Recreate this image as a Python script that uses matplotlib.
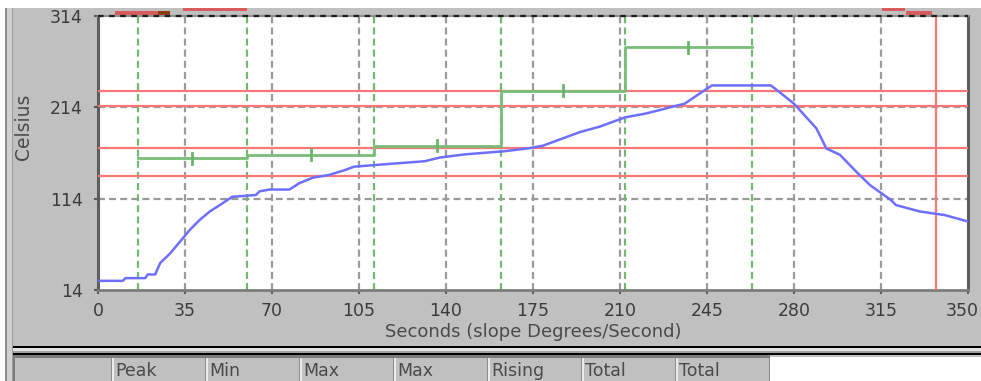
import matplotlib.pyplot as plt
import matplotlib.transforms as mtransforms
from matplotlib.patches import Rectangle

plt.rcParams['lines.scale_dashes'] = False

# profile data
time_s = [0, 10, 11, 19, 20, 23, 25, 29, 33, 37, 41, 45, 49, 54, 63.5, 65, 69, 77, 81,
          86.5, 93, 99, 103, 117, 131.5, 137.5, 147.6, 163.7, 173.8, 179, 186, 194,
          202, 212, 220, 226, 230, 236, 242, 247, 270.7, 274, 280, 284, 289, 293,
          298.5, 304.5, 310.5, 319, 321, 330.6, 340.7, 350]
temp_c = [24, 24, 27, 27, 31, 31, 43.5, 54, 67, 80, 91, 100, 107, 116, 118, 122, 124, 124, 131,
          137, 140, 145, 149, 152, 155, 159, 162.5, 166, 169.4, 172, 179, 187,
          193, 203, 207, 211, 214, 218, 229, 238, 238, 231, 218, 206, 191, 169,
          162, 145, 129, 112.5, 107, 100, 96, 89]

zone_edges = [16, 60, 111, 162, 212, 263]
zone_setpoints = [158.5, 162, 172, 232, 280]
limit_lines = [232, 216, 170, 139]
limit_time = 337

x_ticks = [0, 35, 70, 105, 140, 175, 210, 245, 280, 315, 350]
y_ticks = [14, 114, 214, 314]
table_headers = ['Peak', 'Min', 'Max', 'Max', 'Rising', 'Total', 'Total']

W, H = 981, 381


def box(fig, x0, y0, x1, y1, color):
    fig.add_artist(Rectangle((x0 / W, 1 - y1 / H), (x1 - x0) / W, (y1 - y0) / H,
                             transform=fig.transFigure, facecolor=color,
                             edgecolor='none', zorder=0))


fig = plt.figure(figsize=(9.81, 3.81), dpi=100, facecolor='white')

# window frame
box(fig, 5, 8, W, H, '#c0c0c0')
box(fig, 5, 8, 7, H, '#8c8c8c')
box(fig, 7, 8, 12, H, '#d0d0d0')
box(fig, 12, 8, 13, H, '#9a9a9a')
box(fig, 13, 346, W, 348, '#000000')
box(fig, 13, 348, W, 351, '#e4e4e4')
box(fig, 13, 351, W, 353, '#a0a0a0')
box(fig, 13, 353, W, 355, '#000000')
box(fig, 13, 355, 770, 358, '#7c7c7c')
box(fig, 13, 355, 15, H, '#7c7c7c')
box(fig, 770, 357, W, H, '#ffffff')
box(fig, 115, 11, 158, 15, '#d85c5c')
box(fig, 158, 11, 170, 15, '#8a3c10')
box(fig, 183, 8, 247, 11, '#d85c5c')
box(fig, 882, 8, 905, 11, '#d85c5c')
box(fig, 906, 11, 932, 15, '#d85c5c')

cell_w = (770 - 112) / len(table_headers)
for i, name in enumerate(table_headers):
    cx = 112 + i * cell_w
    box(fig, cx - 1, 358, cx, H, '#8c8c8c')
    box(fig, cx, 358, cx + 1.5, H, '#ececec')
    fig.text((cx + 3) / W, 1 - 362 / H, name, fontsize=12.5, color='#4a4a4a',
             va='top', ha='left')
box(fig, 769, 358, 770, H, '#8c8c8c')

ax = fig.add_axes([98 / W, 1 - 290 / H, 870 / W, 274 / H])
ax.set_facecolor('white')

dash = (5, 3)
for t in x_ticks[1:-1]:
    ax.axvline(t, color='#9a9a9a', lw=1.6, dashes=dash, zorder=1)
for v in y_ticks[1:3]:
    ax.axhline(v, color='#9a9a9a', lw=1.6, dashes=dash, zorder=1)
for t in zone_edges:
    ax.axvline(t, color='#72b872', lw=1.6, dashes=dash, zorder=2)

for v in limit_lines:
    ax.axhline(v, color='#f87878', lw=1.6, zorder=3)
ax.axvline(limit_time, color='#f87878', lw=1.6, zorder=3)

# zone setpoint steps with midpoint markers
step_x = []
step_y = []
for i, sp in enumerate(zone_setpoints):
    step_x += [zone_edges[i], zone_edges[i + 1]]
    step_y += [sp, sp]
ax.plot(step_x, step_y, color='#78be78', lw=2, zorder=4)
for i, sp in enumerate(zone_setpoints):
    mid = (zone_edges[i] + zone_edges[i + 1]) / 2
    ax.plot([mid, mid], [sp - 6, sp + 6], color='#6ab46a', lw=2, zorder=4)

ax.plot(time_s, temp_c, color='#6e6eff', lw=1.8, zorder=5)

ax.axhline(314, color='#1e1e1e', lw=1.6, dashes=(4, 4), zorder=6, clip_on=False)

ax.set_xlim(0, 350)
ax.set_ylim(14, 314)
ax.set_xticks(x_ticks)
ax.set_yticks(y_ticks)
ax.tick_params(axis='both', colors='#5a5a5a', labelcolor='#3c3c3c', labelsize=12.5,
               length=3, width=1.5)
ax.tick_params(axis='x', pad=6)
ax.tick_params(axis='y', pad=8)

# last x label sits at the window edge; nudge it in so it stays readable
last_lbl = ax.get_xticklabels()[-1]
last_lbl.set_transform(last_lbl.get_transform() +
                       mtransforms.ScaledTranslation(-6 / 100, 0, fig.dpi_scale_trans))

for side in ['left', 'right']:
    ax.spines[side].set_color('#5e5e5e')
    ax.spines[side].set_linewidth(2.2)
ax.spines['bottom'].set_color('#7c7c7c')
ax.spines['bottom'].set_linewidth(2)
ax.spines['top'].set_color('#909090')
ax.spines['top'].set_linewidth(1.6)

ax.set_xlabel('Seconds (slope Degrees/Second)', fontsize=13, color='#4a4a4a', labelpad=2)
ax.set_ylabel('Celsius', fontsize=13.5, color='#4a4a4a')
ax.yaxis.set_label_coords(-0.075, 0.595)

fig.savefig('out.png', dpi=100, facecolor=fig.get_facecolor())
